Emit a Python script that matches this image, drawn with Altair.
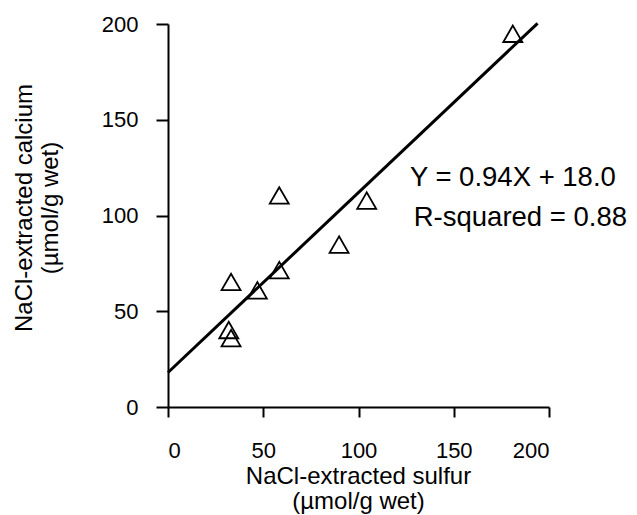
import altair as alt
import pandas as pd

# Data
sulfur = [181.0, 58.4, 104.3, 89.8, 58.4, 46.9, 33.1, 31.9, 33.1]
calcium = [194.9, 110.5, 107.8, 84.8, 71.5, 60.9, 65.3, 40.2, 36.0]
fit_x = [0, 194]
slope = 0.94
intercept = 18.0
ann_text = ["Y = 0.94X + 18.0", "R-squared = 0.88"]
ann_x = [127.0, 129.0]
ann_y = [115.4, 94.5]
axis_ticks = [0, 50, 100, 150, 200]

pts = pd.DataFrame({"x": sulfur, "y": calcium})
fit = pd.DataFrame({"x": fit_x, "y": [slope * v + intercept for v in fit_x]})
ann = pd.DataFrame({"x": ann_x, "y": ann_y, "t": ann_text})

FONT = "Liberation Sans"

xscale = alt.Scale(domain=[0, 200], nice=False, zero=False)
yscale = alt.Scale(domain=[0, 200], nice=False, zero=False)

xaxis = alt.Axis(
    values=axis_ticks, grid=False, domainColor="black", domainWidth=2,
    tickColor="black", tickWidth=2, tickSize=10, labelFontSize=22,
    labelFont=FONT, labelColor="black", labelPadding=23,
    title=["NaCl-extracted sulfur", "(µmol/g wet)"],
    titleFont=FONT, titleFontSize=24, titleFontWeight="normal",
    titleColor="black", titleLineHeight=25.5, titleX=190, titleY=76,
    titleBaseline="alphabetic", titleAlign="center",
)
yaxis = alt.Axis(
    values=axis_ticks, grid=False, domainColor="black", domainWidth=2,
    tickColor="black", tickWidth=2, tickSize=12, labelFontSize=22,
    labelFont=FONT, labelColor="black", labelPadding=18,
    title=["NaCl-extracted calcium", "(µmol/g wet)"],
    titleFont=FONT, titleFontSize=24, titleFontWeight="normal",
    titleColor="black", titleLineHeight=25.5, titleX=-136.5, titleY=183.5,
    titleBaseline="alphabetic", titleAlign="center", titleAngle=-90,
)

base_x = alt.X("x:Q", scale=xscale, axis=xaxis)
base_y = alt.Y("y:Q", scale=yscale, axis=yaxis)

line = alt.Chart(fit).mark_line(color="black", strokeWidth=3).encode(x=base_x, y=base_y)
points = alt.Chart(pts).mark_point(
    shape="triangle-up", size=360, filled=False, color="black",
    strokeWidth=1.8, opacity=1
).encode(x="x:Q", y="y:Q")
text = alt.Chart(ann).mark_text(
    align="left", baseline="alphabetic", fontSize=27.5, font=FONT, color="black"
).encode(x="x:Q", y="y:Q", text="t:N")

chart = (
    alt.layer(line, points, text)
    .properties(
        width=381, height=383,
        autosize=alt.AutoSizeParams(type="none"),
        padding={"left": 160, "top": 16, "right": 80, "bottom": 107},
    )
    .configure_view(stroke=None)
)

chart.save("out.html", embed_options={"renderer": "svg", "actions": False})
